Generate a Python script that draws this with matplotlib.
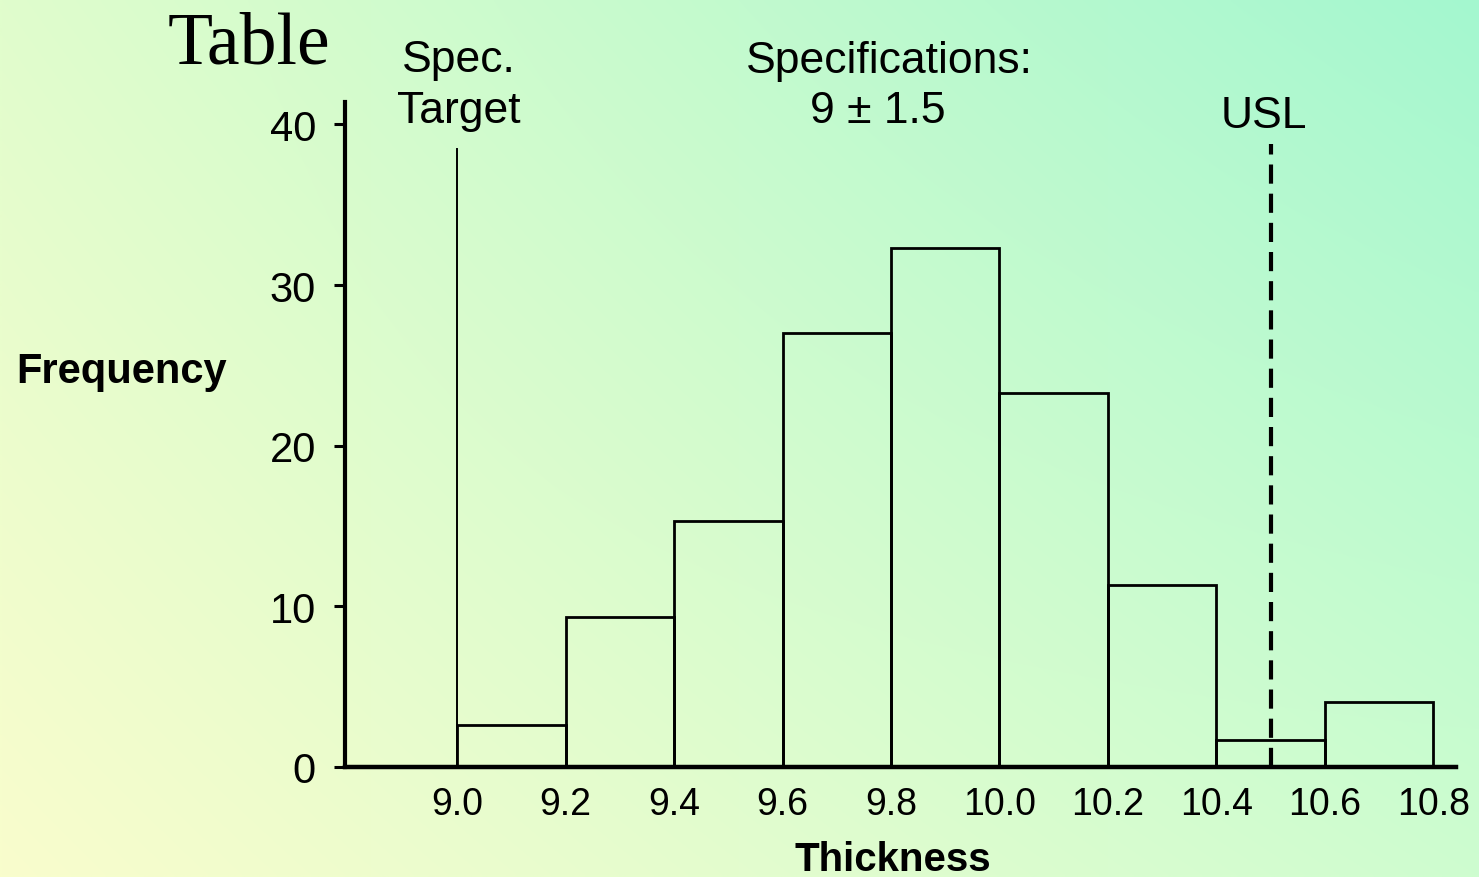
import numpy as np
import matplotlib
matplotlib.use("Agg")
import matplotlib.pyplot as plt

# Histogram of thickness measurements
bin_edges = [9.0, 9.2, 9.4, 9.6, 9.8, 10.0, 10.2, 10.4, 10.6, 10.8]
frequencies = [2.6, 9.35, 15.3, 27.0, 32.3, 23.3, 11.3, 1.7, 4.05]
x_tick_labels = ["9.0", "9.2", "9.4", "9.6", "9.8", "10.0", "10.2", "10.4", "10.6", "10.8"]
y_ticks = [0, 10, 20, 30, 40]
spec_target = 9.0
usl = 10.5

SANS = "Liberation Sans"
SERIF = "Liberation Serif"

fig = plt.figure(figsize=(14.79, 8.78), dpi=100)

# Diagonal background wash: yellow at lower left, mint at upper right
bg = fig.add_axes([0, 0, 1, 1], zorder=-10)
ny, nx = 200, 300
u = np.linspace(0, 1, nx)[None, :, None]
v = np.linspace(0, 1, ny)[:, None, None]
top_left = np.array([224, 253, 204]) / 255
top_right = np.array([164, 247, 208]) / 255
bot_left = np.array([249, 253, 204]) / 255
bot_right = np.array([206, 253, 208]) / 255
img = (top_left * (1 - u) * (1 - v) + top_right * u * (1 - v)
       + bot_left * (1 - u) * v + bot_right * u * v)
bg.imshow(img, aspect="auto", extent=[0, 1, 0, 1], interpolation="bilinear")
bg.set_axis_off()

ax = fig.add_axes([0.2333, 0.1253, 0.7511, 0.7574])
ax.patch.set_alpha(0)

widths = np.diff(bin_edges)
ax.bar(bin_edges[:-1], frequencies, width=widths, align="edge",
       facecolor="none", edgecolor="black", linewidth=2.0, zorder=2)

# Specification target and upper specification limit
ax.plot([spec_target, spec_target], [0, 38.5], color="black", linewidth=1.4, zorder=3)
ax.plot([usl, usl], [0, 38.8], color="black", linewidth=3.0,
        dashes=(4.6, 2.4), zorder=3)

ax.set_xlim(8.793, 10.842)
ax.set_ylim(0, 41.4)

for side in ("top", "right"):
    ax.spines[side].set_visible(False)
ax.spines["left"].set_linewidth(3.0)
ax.spines["bottom"].set_linewidth(3.2)

ax.set_xticks(bin_edges)
ax.set_xticklabels(x_tick_labels, fontsize=27, fontfamily=SANS)
ax.tick_params(axis="x", length=0, pad=14)
ax.set_yticks(y_ticks)
ax.set_yticklabels([str(t) for t in y_ticks], fontsize=30, fontfamily=SANS)
ax.tick_params(axis="y", length=8, width=2.2, pad=13, direction="out")

# Labels and annotations
fig.text(122 / 1479, 1 - 372 / 878, "Frequency", fontsize=30, fontweight="bold",
         fontfamily=SANS, ha="center", va="center")
fig.text(893 / 1479, 1 - 860 / 878, "Thickness", fontsize=29, fontweight="bold",
         fontfamily=SANS, ha="center", va="center")
fig.text(168 / 1479, 1 - 63 / 878, "Table", fontsize=53, fontfamily=SERIF,
         ha="left", va="baseline")
fig.text(459 / 1479, 1 - 72 / 878, "Spec.", fontsize=32, fontfamily=SANS,
         ha="center", va="baseline")
fig.text(459 / 1479, 1 - 123 / 878, "Target", fontsize=32, fontfamily=SANS,
         ha="center", va="baseline")
fig.text(889 / 1479, 1 - 73 / 878, "Specifications:", fontsize=32, fontfamily=SANS,
         ha="center", va="baseline")
fig.text(878 / 1479, 1 - 123 / 878, "9 \u00b1 1.5", fontsize=32, fontfamily=SANS,
         ha="center", va="baseline")
fig.text(1264 / 1479, 1 - 128 / 878, "USL", fontsize=32, fontfamily=SANS,
         ha="center", va="baseline")

fig.savefig("out.png", dpi=100)
